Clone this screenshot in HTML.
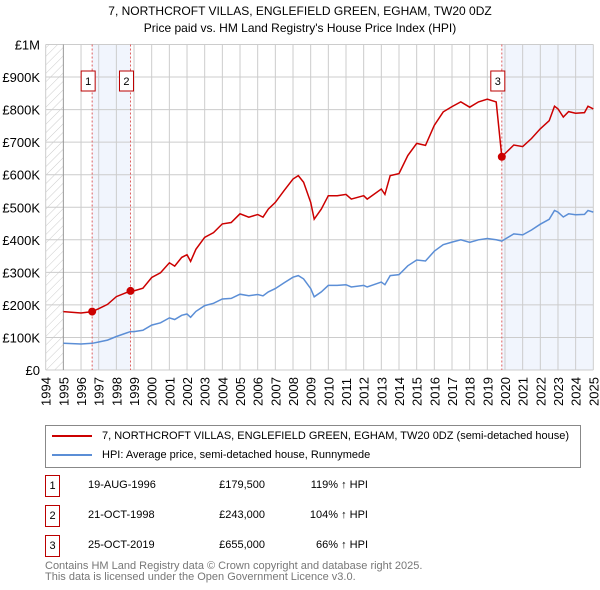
<!DOCTYPE html>
<html><head><meta charset="utf-8"><style>
body{margin:0;background:#fff;font-family:"Liberation Sans","DejaVu Sans",sans-serif;}
#wrap{position:relative;width:600px;height:590px;overflow:hidden;}
.t{position:absolute;white-space:nowrap;color:#000;}
</style></head><body>
<div id="wrap">
<svg id="chart" width="600" height="420" style="position:absolute;left:0;top:0"></svg>
<div class="t" style="left:0;width:600px;text-align:center;top:3px;font-size:12px;line-height:17px;">7, NORTHCROFT VILLAS, ENGLEFIELD GREEN, EGHAM, TW20 0DZ<br>Price paid vs. HM Land Registry's House Price Index (HPI)</div>
<div style="position:absolute;left:45px;top:425px;width:534px;height:41px;border:1px solid #888;font-size:11px;">
 <div style="position:absolute;left:6px;top:4px;"><span style="display:inline-block;width:40px;height:2px;background:#cc0000;vertical-align:middle;margin-right:10px"></span>7, NORTHCROFT VILLAS, ENGLEFIELD GREEN, EGHAM, TW20 0DZ (semi-detached house)</div>
 <div style="position:absolute;left:6px;top:23px;"><span style="display:inline-block;width:40px;height:2px;background:#5b8ed6;vertical-align:middle;margin-right:10px"></span>HPI: Average price, semi-detached house, Runnymede</div>
</div>
<div id="tbl"></div>
<div class="t" style="left:45px;top:561px;font-size:11px;line-height:11px;color:#777;">Contains HM Land Registry data © Crown copyright and database right 2025.<br>This data is licensed under the Open Government Licence v3.0.</div>
</div>
<script>
const hpiYears=[1995,1996,1996.63,1997,1997.5,1998,1998.8,1999,1999.5,2000,2000.5,2001,2001.3,2001.7,2002,2002.2,2002.5,2003,2003.5,2004,2004.5,2005,2005.5,2006,2006.3,2006.6,2007,2007.5,2008,2008.3,2008.6,2009,2009.2,2009.6,2010,2010.5,2011,2011.3,2012,2012.2,2013,2013.2,2013.5,2014,2014.5,2015,2015.5,2016,2016.5,2017,2017.5,2018,2018.5,2019,2019.5,2019.82,2020,2020.5,2021,2021.5,2022,2022.5,2022.8,2023,2023.3,2023.6,2024,2024.5,2024.7,2025];
const hpiValues=[82,80,82,86,92,103,118,118,122,138,145,160,155,168,172,162,180,198,205,218,220,233,228,232,228,240,250,268,285,290,280,250,225,240,260,260,262,255,260,255,270,262,290,293,320,338,335,365,385,393,400,392,400,404,400,396,402,418,415,430,448,463,490,485,470,480,477,478,490,485];
const saleYears=[1996.63,1998.8,2019.82];
const salePrices=[179.5,243,655];
const saleLabels=["1","2","3"];
const saleDates=["19-AUG-1996","21-OCT-1998","25-OCT-2019"];
const salePriceText=["£179,500","£243,000","£655,000"];
const saleHpiText=["119% ↑ HPI","104% ↑ HPI","66% ↑ HPI"];
const yTicks=[0,100,200,300,400,500,600,700,800,900,1000];
const yTickLabels=["£0","£100K","£200K","£300K","£400K","£500K","£600K","£700K","£800K","£900K","£1M"];
const xTicks=[1994,1995,1996,1997,1998,1999,2000,2001,2002,2003,2004,2005,2006,2007,2008,2009,2010,2011,2012,2013,2014,2015,2016,2017,2018,2019,2020,2021,2022,2023,2024,2025];

const X=y=>45.7+(y-1994)*17.665;
const Y=v=>370-v*0.3255;
const NS="http://www.w3.org/2000/svg";
const svg=document.getElementById('chart');
function mk(tag,attrs,parent){const e=document.createElementNS(NS,tag);for(const k in attrs)e.setAttribute(k,attrs[k]);(parent||svg).appendChild(e);return e;}
function hpiAt(y){for(let i=1;i<hpiYears.length;i++){if(y<=hpiYears[i]){const t=(y-hpiYears[i-1])/(hpiYears[i]-hpiYears[i-1]);return hpiValues[i-1]+t*(hpiValues[i]-hpiValues[i-1]);}}return hpiValues[hpiValues.length-1];}

const defs=mk('defs',{});
const pat=mk('pattern',{id:'hatch',width:6,height:6,patternUnits:'userSpaceOnUse',patternTransform:'rotate(45)'},defs);
mk('line',{x1:0,y1:0,x2:0,y2:6,stroke:'#ccc','stroke-width':1},pat);
let e=mk('rect',{x:X(1994),y:Y(1000),width:X(1995)-X(1994),height:Y(0)-Y(1000),fill:'url(#hatch)'});

e=mk('rect',{x:X(saleYears[0]),y:Y(1000),width:X(saleYears[1])-X(saleYears[0]),height:Y(0)-Y(1000),fill:'#eef3fc',opacity:0.8});

e=mk('rect',{x:X(saleYears[2]),y:Y(1000),width:X(2025)-X(saleYears[2]),height:Y(0)-Y(1000),fill:'#eef3fc',opacity:0.8});

yTicks.forEach((v,i)=>{
 const l=mk('line',{x1:X(1994),x2:X(2025),y1:Y(v),y2:Y(v),stroke:'#ccc'});
 
 const t=mk('text',{x:40,y:Y(v)+5,'text-anchor':'end','font-size':13,fill:'#000'});
 t.textContent=yTickLabels[i];
 
});
xTicks.forEach(yr=>{
 const l=mk('line',{x1:X(yr),x2:X(yr),y1:Y(1000),y2:Y(0),stroke:yr==1995?'#999':'#ccc'});
 
 const t=mk('text',{x:0,y:0,transform:`translate(${X(yr)+5},406) rotate(-90)`,'font-size':13,fill:'#000'});
 t.textContent=yr;
 
});
saleYears.forEach((yr,i)=>{
 const l=mk('line',{x1:X(yr),x2:X(yr),y1:Y(1000),y2:Y(0),stroke:'#e06060','stroke-dasharray':'2,2'});
 
 const r=mk('rect',{x:X(yr)-11,y:71,width:14,height:20,fill:'#fff',stroke:'#b00'});
 
 const t=mk('text',{x:X(yr)-4,y:85,'text-anchor':'middle','font-size':11});
 t.textContent=saleLabels[i];
 
});
let d='';hpiYears.forEach((yr,i)=>{d+=(i?'L':'M')+X(yr).toFixed(1)+','+Y(hpiValues[i]).toFixed(1);});
e=mk('path',{d:d,fill:'none',stroke:'#5b8ed6','stroke-width':1.5});

function ratioAt(yr){let k=0;for(let i=0;i<saleYears.length;i++)if(yr>=saleYears[i]-1e-6)k=i;return salePrices[k]/hpiAt(saleYears[k]);}
const pts=[];
hpiYears.forEach((yr,i)=>{
 saleYears.forEach((s,j)=>{if(i>0&&s>hpiYears[i-1]&&s<yr){const prevR=j>0?salePrices[j-1]/hpiAt(saleYears[j-1]):salePrices[0]/hpiAt(saleYears[0]);pts.push([s,hpiAt(s)*prevR]);pts.push([s,salePrices[j]]);}});
 pts.push([yr,hpiValues[i]*ratioAt(yr)]);
});
d='';pts.forEach((p,i)=>{d+=(i?'L':'M')+X(p[0]).toFixed(1)+','+Y(p[1]).toFixed(1);});
e=mk('path',{d:d,fill:'none',stroke:'#cc0000','stroke-width':1.5});

saleYears.forEach((yr,i)=>{
 const c=mk('circle',{cx:X(yr),cy:Y(salePrices[i]),r:4,fill:'#cc0000'});
 
});
const tbl=document.getElementById('tbl');
saleDates.forEach((dt,i)=>{
 const top=475+i*30;
 const row=document.createElement('div');
 
 
 row.innerHTML=`<div class="t" style="left:45px;top:${top}px;width:13px;height:20px;border:1px solid #b00;font-size:11px;line-height:20px;text-align:center">${saleLabels[i]}</div>`+
 `<div class="t" style="left:88px;top:${top+4}px;font-size:11px">${dt}</div>`+
 `<div class="t" style="left:200px;width:65px;text-align:right;top:${top+4}px;font-size:11px">${salePriceText[i]}</div>`+
 `<div class="t" style="left:290px;width:78px;text-align:right;top:${top+4}px;font-size:11px">${saleHpiText[i]}</div>`;
 tbl.appendChild(row);
});
</script>
</body></html>
